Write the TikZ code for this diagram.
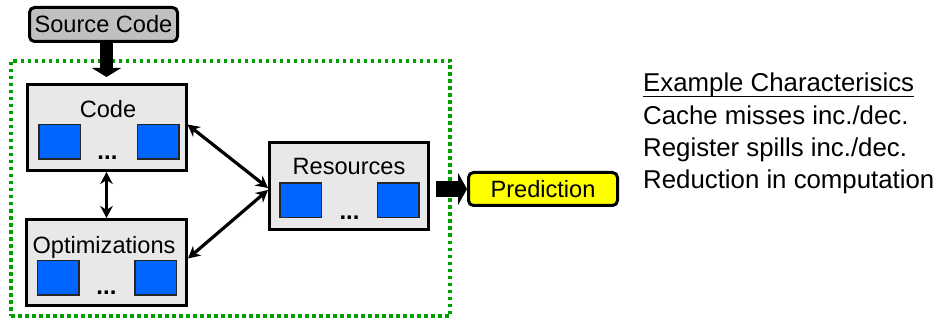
\documentclass[tikz,border=0pt]{standalone}
\usepackage{fontspec}
\setmainfont{Liberation Sans}
\usetikzlibrary{arrows.meta}
\definecolor{panelgray}{HTML}{E8E8E8}
\definecolor{srcgray}{HTML}{C0C0C0}
\definecolor{cellblue}{HTML}{0066FF}
\definecolor{framegreen}{HTML}{00A000}
\definecolor{predyellow}{HTML}{FFFF00}
\tikzset{
  panel/.style={draw=black, line width=3pt, fill=panelgray, inner sep=0pt},
  cell/.style={draw=black!85, line width=1.5pt, fill=cellblue, inner sep=0pt,
    minimum width=41.5pt, minimum height=34.5pt},
  lbl/.style={anchor=base, inner sep=0pt, font=\fontsize{23.6}{28}\selectfont},
  ell/.style={anchor=base, inner sep=0pt, font=\fontsize{24}{28}\selectfont\bfseries},
  pill/.style={draw=black, line width=3pt, rounded corners=5pt, inner sep=0pt,
    font=\fontsize{23.6}{28}\selectfont},
  frame/.style={draw=framegreen, line width=3.5pt, dash pattern=on 3.5pt off 3.5pt, inner sep=0pt},
  twoway/.style={line width=3.2pt, {Stealth[length=12pt,width=12.5pt]}-{Stealth[length=12pt,width=12.5pt]}},
  note/.style={anchor=base west, inner sep=0pt, font=\fontsize{25.8}{30}\selectfont},
}
\begin{document}
\begin{tikzpicture}[x=1pt, y=-1pt]
\useasboundingbox (0,0) rectangle (949,320);

% grouping frame
\node[frame, minimum width=439pt, minimum height=255pt] (group) at (230.5,188.5) {};

% input
\node[pill, fill=srcgray, minimum width=148pt, minimum height=34pt] (src) at (103.5,24.5) {Source Code};

% code panel
\node[panel, minimum width=159pt, minimum height=86pt] (code) at (106.5,127.5) {};
\node[lbl] (codelbl) at (108,118) {Code};
\node[cell] (c1) at (59.5,142) {};
\node[cell] (c2) at (158,142) {};
\node[ell] (cdots) at (107.5,160) {...};

% optimizations panel
\node[panel, minimum width=160pt, minimum height=86pt] (opt) at (106.5,262.5) {};
\node[lbl] (optlbl) at (104,253) {Optimizations};
\node[cell] (o1) at (58,277.5) {};
\node[cell] (o2) at (155.5,277.5) {};
\node[ell] (odots) at (106.5,294) {...};

% resources panel
\node[panel, minimum width=159pt, minimum height=87pt] (res) at (349,186) {};
\node[lbl] (reslbl) at (349,175) {Resources};
\node[cell] (r1) at (300.5,200.5) {};
\node[cell] (r2) at (398,200.5) {};
\node[ell] (rdots) at (349.5,219) {...};

% output
\node[pill, fill=predyellow, minimum width=149pt, minimum height=33pt] (pred) at (543,189) {Prediction};

% connectors
\draw[line width=13pt, -{Triangle[width=29pt,length=9pt]}, shorten >=6pt]
  (code.north |- src.south) -- (code.north);
\draw[twoway] (code.south) -- (opt.north);
\draw[twoway] ([yshift=3pt]code.east) -- ([yshift=-2pt]res.west);
\draw[twoway] ([yshift=4pt]opt.east) -- ([yshift=-4pt]res.west);
\draw[line width=16pt, -{Triangle[width=32pt,length=9pt]}, shorten <=6pt]
  (res.east |- pred.west) -- (pred.west);

% characteristics list
\node[note] (n1) at (643,92) {Example Characterisics};
\draw[line width=1.6pt] ([yshift=-4.5pt]n1.base west) -- ([yshift=-4.5pt]n1.base east);
\node[note] (n2) at (643,125) {Cache misses inc./dec.};
\node[note] (n3) at (643,157) {Register spills inc./dec.};
\node[note] (n4) at (643,189) {Reduction in computation};
\end{tikzpicture}
\end{document}
